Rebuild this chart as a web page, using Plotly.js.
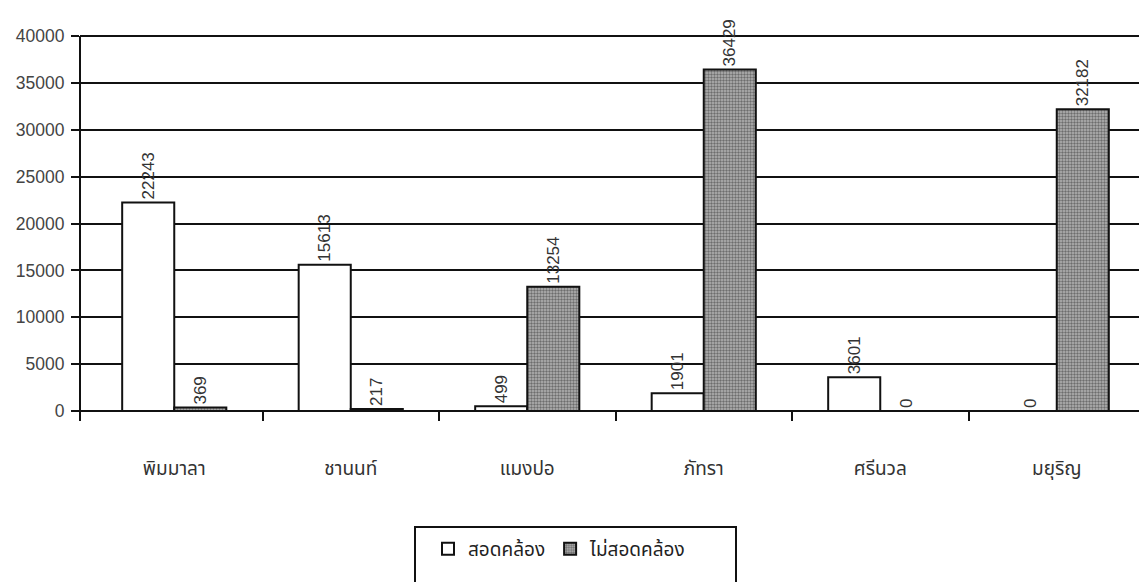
<!DOCTYPE html>
<html>
<head>
<meta charset="utf-8">
<script src="https://cdn.plot.ly/plotly-3.0.1.min.js"></script>
<style>html,body{margin:0;padding:0;background:#fff;}#chart{width:1139px;height:582px;}</style>
</head>
<body>
<div id="chart"></div>
<script>
const categories = ["พิมมาลา", "ชานนท์", "แมงปอ", "ภัทรา", "ศรีนวล", "มยุริญ"];
const seriesNames = ["สอดคล้อง", "ไม่สอดคล้อง"];
const consistent = [22243, 15613, 499, 1901, 3601, 0];
const inconsistent = [369, 217, 13254, 36429, 0, 32182];
const yTicks = [0, 5000, 10000, 15000, 20000, 25000, 30000, 35000, 40000];

const W = 1139, H = 582;
const L = 80, R = 0, T = 34, B = 171;
const pw = W - L - R, ph = H - T - B;
const px = v => (v - L) / pw;
const py = v => (H - B - v) / ph;

const idx = categories.map((c, i) => i);
const boundaries = categories.slice(1).map((c, i) => i + 0.5);
const yMax = 40000 * (ph) / (ph - 2);

const textFont = {family: "Liberation Sans, Arial, sans-serif", size: 17, color: "#333"};
const thaiFont = "Noto Sans Thai, Loma, Garuda, Noto Sans, DejaVu Sans, sans-serif";

const traces = [
  {
    type: "bar", name: seriesNames[0], x: idx, y: consistent,
    text: consistent.map(String), textposition: "outside", textangle: -90,
    textfont: textFont, cliponaxis: false,
    marker: {color: "#ffffff", line: {color: "#111", width: 2}},
    hovertext: categories, hoverinfo: "text+y"
  },
  {
    type: "bar", name: seriesNames[1], x: idx, y: inconsistent,
    text: inconsistent.map(String), textposition: "outside", textangle: -90,
    textfont: textFont, cliponaxis: false,
    marker: {color: "#8f8f8f", line: {color: "#111", width: 2},
      pattern: {shape: ".", fgcolor: "#262626", bgcolor: "#b5b5b5", size: 3, solidity: 0.5, fillmode: "overlay"}},
    hovertext: categories, hoverinfo: "text+y"
  }
];

const layout = {
  width: W, height: H,
  margin: {l: L, r: R, t: T, b: B},
  paper_bgcolor: "#fff", plot_bgcolor: "#fff",
  barmode: "group", bargap: 0.41, bargroupgap: 0,
  showlegend: true,
  legend: {
    orientation: "h", x: px(428), y: py(530), xanchor: "left", yanchor: "top",
    font: {family: thaiFont, size: 19, color: "#222"},
    bgcolor: "rgba(0,0,0,0)", borderwidth: 0, itemwidth: 30, traceorder: "normal"
  },
  xaxis: {
    type: "linear", range: [-0.534, 5.466],
    tickmode: "array", tickvals: idx, ticktext: categories,
    ticks: "", showgrid: false, showline: false, zeroline: false,
    minor: {tickmode: "array", tickvals: boundaries, ticks: "outside", ticklen: 9, tickwidth: 2, tickcolor: "#111", showgrid: false},
    ticklabelstandoff: 44,
    tickfont: {family: thaiFont, size: 19, color: "#333"},
    fixedrange: true
  },
  yaxis: {
    range: [0, yMax], tickvals: yTicks, ticktext: yTicks.map(String),
    ticks: "outside", ticklen: 8, tickwidth: 2, tickcolor: "#111",
    showgrid: true, gridcolor: "#111", gridwidth: 2,
    showline: false,
    zeroline: true, zerolinecolor: "#111", zerolinewidth: 2,
    tickfont: {family: "Liberation Sans, Arial, sans-serif", size: 17.5, color: "#444"},
    ticklabelstandoff: 3,
    fixedrange: true
  },
  shapes: [
    {type: "line", xref: "paper", yref: "paper", x0: 0, x1: 0, y0: py(421), y1: py(36), line: {color: "#111", width: 2}},
    {type: "rect", xref: "paper", yref: "paper", x0: px(415), x1: px(736), y0: py(527), y1: py(595), line: {color: "#111", width: 2}, fillcolor: "rgba(0,0,0,0)"}
  ]
};

Plotly.newPlot("chart", traces, layout, {displayModeBar: false, staticPlot: true});
</script>
</body>
</html>
